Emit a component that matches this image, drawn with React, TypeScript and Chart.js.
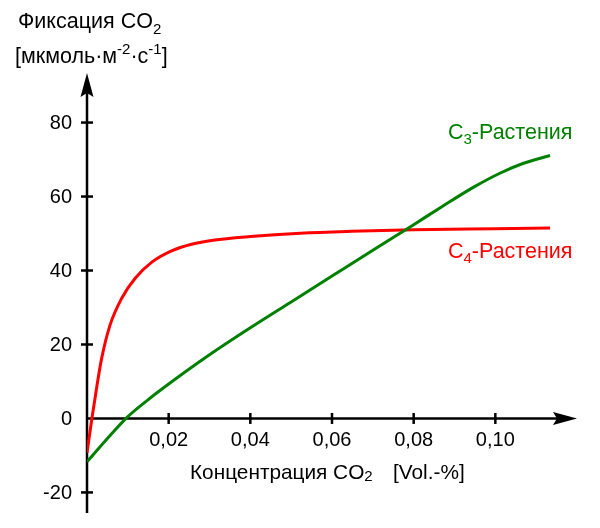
import React, { useEffect, useRef } from "react";
import { Chart, registerables } from "chart.js";

Chart.register(...registerables);

const xTicks = [0.02, 0.04, 0.06, 0.08, 0.1];
const xTickLabels = ["0,02", "0,04", "0,06", "0,08", "0,10"];
const yTicks = [80, 60, 40, 20, 0, -20];
const yTickLabels = ["80", "60", "40", "20", "0", "-20"];

const c3X = [0, 0.005, 0.01, 0.015, 0.02, 0.03, 0.04, 0.05, 0.06, 0.07, 0.08, 0.0867, 0.0948, 0.1011, 0.1069, 0.1134];
const c3Y = [-11.7, -5.4, 0.5, 5.1, 9.3, 17.2, 24.5, 31.5, 38.5, 45.5, 52.4, 57.1, 62.6, 66.3, 69.0, 71.1];

const c4X = [0, 0.0012, 0.0024, 0.0036, 0.0056, 0.0085, 0.0118, 0.0158, 0.0207, 0.0256, 0.0309, 0.04, 0.0523, 0.0647, 0.08, 0.1, 0.1134];
const c4Y = [-9.3, 0, 8.6, 16.3, 25.1, 32.5, 37.9, 42.2, 45.3, 47.1, 48.2, 49.2, 50.1, 50.6, 51.0, 51.3, 51.5];

const FONT = "Liberation Sans, Arial, Helvetica, sans-serif";
const GREEN = "#008000";
const RED = "#ff0000";
const BIG = 21.5;
const SUB = 15;

type Seg = { t: string; size: number; dy: number };

function drawSegs(ctx: CanvasRenderingContext2D, segs: Seg[], x: number, y: number, color: string) {
  ctx.save();
  ctx.fillStyle = color;
  ctx.textAlign = "left";
  ctx.textBaseline = "middle";
  let cx = x;
  for (const s of segs) {
    ctx.font = `${s.size}px ${FONT}`;
    ctx.fillText(s.t, cx, y + s.dy);
    cx += ctx.measureText(s.t).width;
  }
  ctx.restore();
}

const axesPlugin = {
  id: "customAxes",
  beforeDatasetsDraw(chart: any) {
    const ctx: CanvasRenderingContext2D = chart.ctx;
    const xs = chart.scales.x;
    const ys = chart.scales.y;
    const area = chart.chartArea;
    const x0 = xs.getPixelForValue(0);
    const y0 = ys.getPixelForValue(0);
    ctx.save();
    ctx.strokeStyle = "#000";
    ctx.fillStyle = "#000";
    ctx.lineWidth = 2.5;
    ctx.beginPath();
    ctx.moveTo(x0, area.bottom);
    ctx.lineTo(x0, area.top + 12);
    ctx.stroke();
    ctx.beginPath();
    ctx.moveTo(x0, area.top);
    ctx.lineTo(x0 - 6.5, area.top + 24);
    ctx.lineTo(x0, area.top + 20);
    ctx.lineTo(x0 + 6.5, area.top + 24);
    ctx.closePath();
    ctx.fill();
    ctx.beginPath();
    ctx.moveTo(x0, y0);
    ctx.lineTo(area.right - 12, y0);
    ctx.stroke();
    ctx.beginPath();
    ctx.moveTo(area.right, y0);
    ctx.lineTo(area.right - 24, y0 - 6.5);
    ctx.lineTo(area.right - 20, y0);
    ctx.lineTo(area.right - 24, y0 + 6.5);
    ctx.closePath();
    ctx.fill();
    yTicks.forEach((v) => {
      if (v === 0) return;
      const py = ys.getPixelForValue(v);
      ctx.beginPath();
      ctx.moveTo(x0 - 6, py);
      ctx.lineTo(x0 + 6, py);
      ctx.stroke();
    });
    xTicks.forEach((v) => {
      const px = xs.getPixelForValue(v);
      ctx.beginPath();
      ctx.moveTo(px, y0 - 5.5);
      ctx.lineTo(px, y0 + 5.5);
      ctx.stroke();
    });
    ctx.restore();
  },
  afterDraw(chart: any) {
    const ctx: CanvasRenderingContext2D = chart.ctx;
    const xs = chart.scales.x;
    const ys = chart.scales.y;
    const x0 = xs.getPixelForValue(0);
    const y0 = ys.getPixelForValue(0);
    ctx.save();
    ctx.fillStyle = "#000";
    ctx.font = `20px ${FONT}`;
    ctx.textBaseline = "middle";
    ctx.textAlign = "right";
    yTicks.forEach((v, i) => {
      ctx.fillText(yTickLabels[i], x0 - 15, ys.getPixelForValue(v) + 1);
    });
    ctx.textAlign = "center";
    xTicks.forEach((v, i) => {
      ctx.fillText(xTickLabels[i], xs.getPixelForValue(v), y0 + 22);
    });
    ctx.restore();

    drawSegs(ctx, [
      { t: "Фиксация CO", size: BIG, dy: 0 },
      { t: "2", size: SUB, dy: 8 },
    ], 18, 22, "#000");
    drawSegs(ctx, [
      { t: "[мкмоль·м", size: BIG, dy: 0 },
      { t: "-2", size: SUB, dy: -7 },
      { t: "·с", size: BIG, dy: 0 },
      { t: "-1", size: SUB, dy: -7 },
      { t: "]", size: BIG, dy: 0 },
    ], 15, 57, "#000");
    drawSegs(ctx, [
      { t: "Концентрация CO", size: BIG - 0.7, dy: 0 },
      { t: "2", size: SUB, dy: 4 },
    ], 190, 473, "#000");
    drawSegs(ctx, [{ t: "[Vol.-%]", size: BIG - 0.7, dy: 0 }], 393, 473, "#000");

    drawSegs(ctx, [
      { t: "C", size: BIG, dy: 0 },
      { t: "3", size: SUB, dy: 7 },
      { t: "-Растения", size: BIG, dy: 0 },
    ], 448, 133, GREEN);
    drawSegs(ctx, [
      { t: "C", size: BIG, dy: 0 },
      { t: "4", size: SUB, dy: 7 },
      { t: "-Растения", size: BIG, dy: 0 },
    ], 448, 252, RED);
  },
};

export default function App() {
  const ref = useRef<HTMLCanvasElement | null>(null);
  useEffect(() => {
    if (!ref.current) return;
    const chart = new Chart(ref.current, {
      type: "line",
      data: {
        datasets: [
          {
            label: "C3-Растения",
            data: c3X.map((x, i) => ({ x, y: c3Y[i] })),
            borderColor: GREEN,
            borderWidth: 3,
            pointRadius: 0,
            fill: false,
            cubicInterpolationMode: "monotone",
          },
          {
            label: "C4-Растения",
            data: c4X.map((x, i) => ({ x, y: c4Y[i] })),
            borderColor: RED,
            borderWidth: 3,
            pointRadius: 0,
            fill: false,
            cubicInterpolationMode: "monotone",
          },
        ],
      },
      options: {
        animation: false,
        responsive: false,
        maintainAspectRatio: false,
        layout: { padding: { left: 87, right: 23, top: 73, bottom: 15 } },
        plugins: { legend: { display: false }, tooltip: { enabled: false } },
        scales: {
          x: { type: "linear", min: 0, max: 0.12, display: false },
          y: { type: "linear", min: -25.56, max: 93.4, display: false },
        },
      },
      plugins: [axesPlugin],
    } as any);
    return () => chart.destroy();
  }, []);
  return (
    <div style={{ position: "fixed", left: 0, top: 0, width: 600, height: 528, background: "#fff" }}>
      <canvas ref={ref} width={600} height={528} style={{ display: "block" }} />
    </div>
  );
}
